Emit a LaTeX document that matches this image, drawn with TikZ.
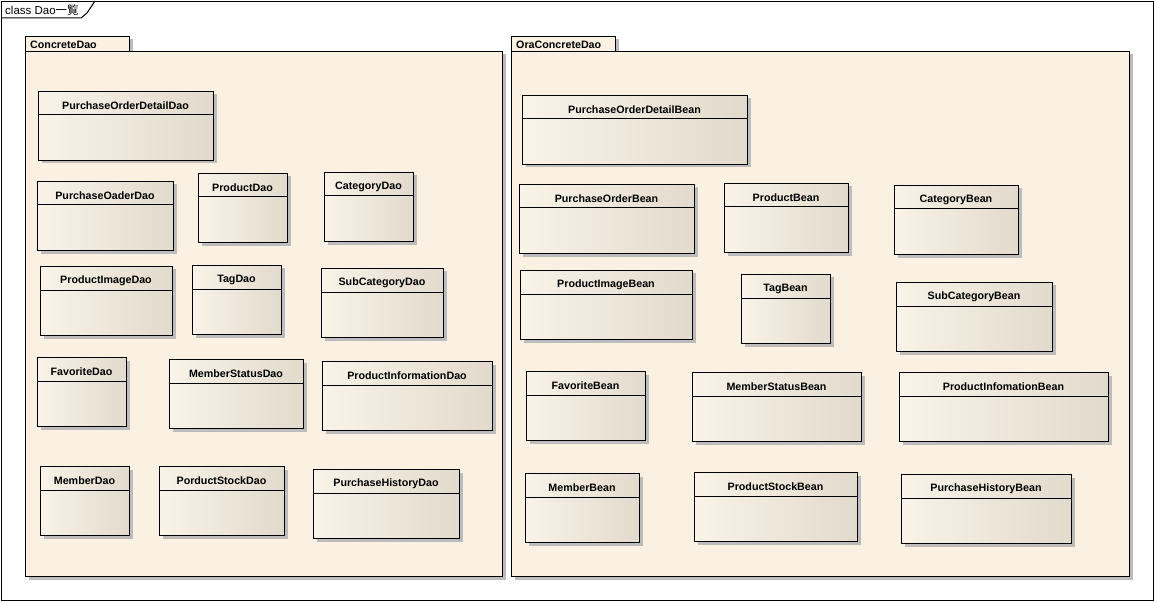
\documentclass[tikz,border=0pt]{standalone}
\usepackage{fontspec}
\setmainfont{Liberation Sans}
\newfontfamily\cjk{Noto Sans CJK JP}
\usetikzlibrary{shadows}
\definecolor{pkgfill}{RGB}{250,241,227}
\definecolor{clsL}{RGB}{249,243,232}
\definecolor{clsM}{RGB}{243,236,223}
\definecolor{clsR}{RGB}{226,218,204}
\definecolor{shad}{RGB}{188,188,188}
\tikzset{
  clsbox/.style={anchor=north west, draw, line width=1bp, inner sep=0pt,
    left color=clsL, middle color=clsM, right color=clsR,
    drop shadow={shadow xshift=3bp, shadow yshift=-3bp, fill=shad, opacity=1}},
  clsline/.style={line width=1bp},
  clsname/.style={font=\fontsize{10.7bp}{12bp}\selectfont\bfseries, inner sep=0pt},
  pkgbox/.style={anchor=north west, draw, line width=1bp, inner sep=0pt, fill=pkgfill,
    drop shadow={shadow xshift=3bp, shadow yshift=-3bp, fill=shad, opacity=1}},
  pkgname/.style={font=\fontsize{10.7bp}{12bp}\selectfont\bfseries, inner sep=0pt, anchor=west},
}
\newcommand\umlclass[7]{%
  \pgfmathsetmacro\cw{#4-#2}\pgfmathsetmacro\ch{#5-#3}\pgfmathsetmacro\cl{#6-#3}%
  \node[clsbox, minimum width=\cw bp, minimum height=\ch bp] (#1) at (#2,#3) {};
  \draw[clsline] ([yshift=-\cl bp]#1.north west) -- ([yshift=-\cl bp]#1.north east);
  \node[clsname] (#1-name) at ({(#2+#4)/2},{(#3+#6)/2+2.5}) {#7};
}
\newcommand\umlpkg[8]{% name, tab x2, x1, y1(tab top), y2(body top), x2, y3(bottom), label
  \pgfmathsetmacro\tw{#2-#3}\pgfmathsetmacro\th{#5-#4}%
  \pgfmathsetmacro\bw{#6-#3}\pgfmathsetmacro\bh{#7-#5}%
  \node[pkgbox, minimum width=\tw bp, minimum height=\th bp] (#1-tab) at (#3,#4) {};
  \node[pkgbox, minimum width=\bw bp, minimum height=\bh bp] (#1) at (#3,#5) {};
  \node[pkgname] (#1-label) at ({#3+5},{(#4+#5)/2+1}) {#8};
}
\begin{document}
\begin{tikzpicture}[x=1bp,y=-1bp]
\useasboundingbox (0,0) rectangle (1155,602);
\fill[white] (0,0) rectangle (1155,602);
% frame
\node[draw, line width=1bp, anchor=north west, minimum width=1152bp, minimum height=599bp, inner sep=0pt] (frame) at (1,1) {};
\draw[line width=1bp] (frame.north west) ++(0,17) coordinate (ft1) -- ++(80,0) coordinate (ft2) -- ++(6,-5) -- ++(8,-12) coordinate (ft3);
\node[anchor=west, inner sep=0pt, font=\fontsize{11.5bp}{13bp}\selectfont] (frame-label) at (5,10) {class Dao{\cjk 一覧}};

% packages
\umlpkg{concrete}{129}{25}{36}{51}{502}{576}{ConcreteDao}
\umlpkg{oraconcrete}{615}{511}{36}{51}{1129}{576}{OraConcreteDao}

% ConcreteDao classes
\umlclass{pod}{38}{91}{213}{160}{115}{PurchaseOrderDetailDao}
\umlclass{po}{37}{181}{173}{250}{205}{PurchaseOaderDao}
\umlclass{prod}{198}{173}{287}{242}{197}{ProductDao}
\umlclass{cat}{324}{172}{413}{241}{196}{CategoryDao}
\umlclass{pimg}{40}{266}{172}{335}{290}{ProductImageDao}
\umlclass{tag}{192}{265}{281}{334}{289}{TagDao}
\umlclass{subcat}{321}{268}{443}{337}{292}{SubCategoryDao}
\umlclass{fav}{37}{357}{126}{426}{381}{FavoriteDao}
\umlclass{mstat}{169}{359}{303}{428}{383}{MemberStatusDao}
\umlclass{pinfo}{322}{361}{492}{430}{385}{ProductInformationDao}
\umlclass{mem}{40}{466}{129}{535}{490}{MemberDao}
\umlclass{pstock}{159}{466}{284}{535}{490}{PorductStockDao}
\umlclass{phist}{313}{469}{459}{538}{493}{PurchaseHistoryDao}

% OraConcreteDao classes
\umlclass{bpod}{522}{95}{747}{164}{119}{PurchaseOrderDetailBean}
\umlclass{bpo}{519}{184}{694}{253}{208}{PurchaseOrderBean}
\umlclass{bprod}{724}{183}{848}{252}{207}{ProductBean}
\umlclass{bcat}{894}{185}{1018}{254}{209}{CategoryBean}
\umlclass{bpimg}{520}{270}{692}{339}{294}{ProductImageBean}
\umlclass{btag}{741}{274}{830}{343}{298}{TagBean}
\umlclass{bsubcat}{896}{282}{1052}{351}{306}{SubCategoryBean}
\umlclass{bfav}{526}{371}{645}{440}{395}{FavoriteBean}
\umlclass{bmstat}{692}{372}{861}{441}{396}{MemberStatusBean}
\umlclass{bpinfo}{899}{372}{1108}{441}{396}{ProductInfomationBean}
\umlclass{bmem}{525}{473}{639}{542}{497}{MemberBean}
\umlclass{bpstock}{694}{472}{857}{541}{496}{ProductStockBean}
\umlclass{bphist}{901}{474}{1071}{543}{498}{PurchaseHistoryBean}
\end{tikzpicture}
\end{document}
